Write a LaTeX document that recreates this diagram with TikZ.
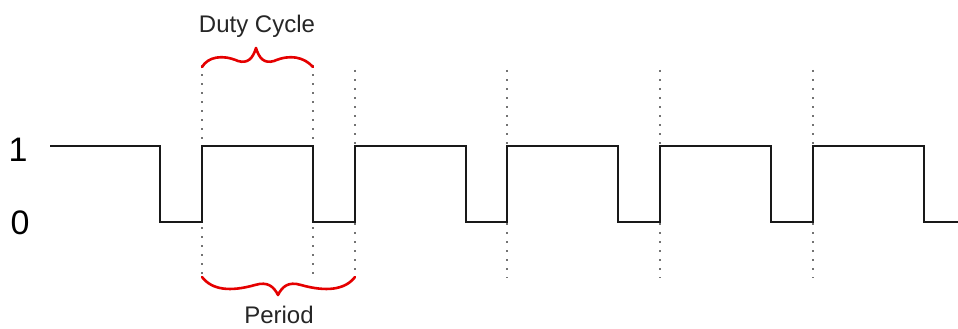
\documentclass[tikz,border=0pt]{standalone}
\usepackage{fontspec}
\setmainfont{Liberation Sans}
\begin{document}
\begin{tikzpicture}[x=1pt,y=-1pt,
  wave/.style={line width=2.5pt,black!90,line join=miter},
  guide/.style={line width=1.3pt,black!55,dash pattern=on 1.6pt off 7.4pt},
  bracecurve/.style={line width=2.6pt,red!90!black,line cap=round,line join=round},
  lbl/.style={inner sep=0pt,anchor=base}]
\useasboundingbox[fill=white] (0,0) rectangle (958,329);
% guides
\foreach \x/\t in {202/65,313/65,355/70,507/70,660/70,813/70}
  \draw[guide] (\x,\t) -- (\x,278);
% waveform
\draw[wave] (50,146) -- (160,146) -- (160,222) -- (202,222) -- (202,146) -- (313,146)
  -- (313,222) -- (355,222) -- (355,146) -- (466,146) -- (466,222) -- (507,222)
  -- (507,146) -- (618,146) -- (618,222) -- (660,222) -- (660,146) -- (771,146)
  -- (771,222) -- (813,222) -- (813,146) -- (924,146) -- (924,222) -- (958,222);
% braces
\draw[bracecurve] (202,67) .. controls (208,57) and (222,54) .. (238,61)
  .. controls (248,64) and (253,58) .. (256,48)
  .. controls (259,58) and (264,64) .. (274,61)
  .. controls (290,54) and (304,57) .. (313,67);
\draw[bracecurve] (202,277) .. controls (212,290) and (230,292) .. (255,285)
  .. controls (268,281) and (274,287) .. (278,295)
  .. controls (282,287) and (288,281) .. (301,285)
  .. controls (326,292) and (345,290) .. (355,277);
% labels
\node[lbl,font=\fontsize{24}{24}\selectfont,text=black!85] (duty) at (257,33) {Duty Cycle};
\node[lbl,font=\fontsize{24}{24}\selectfont,text=black!85] (period) at (279,323) {Period};
\node[lbl,font=\fontsize{34}{34}\selectfont] (one) at (18,161) {1};
\node[lbl,font=\fontsize{34}{34}\selectfont] (zero) at (20,234) {0};
\end{tikzpicture}
\end{document}
